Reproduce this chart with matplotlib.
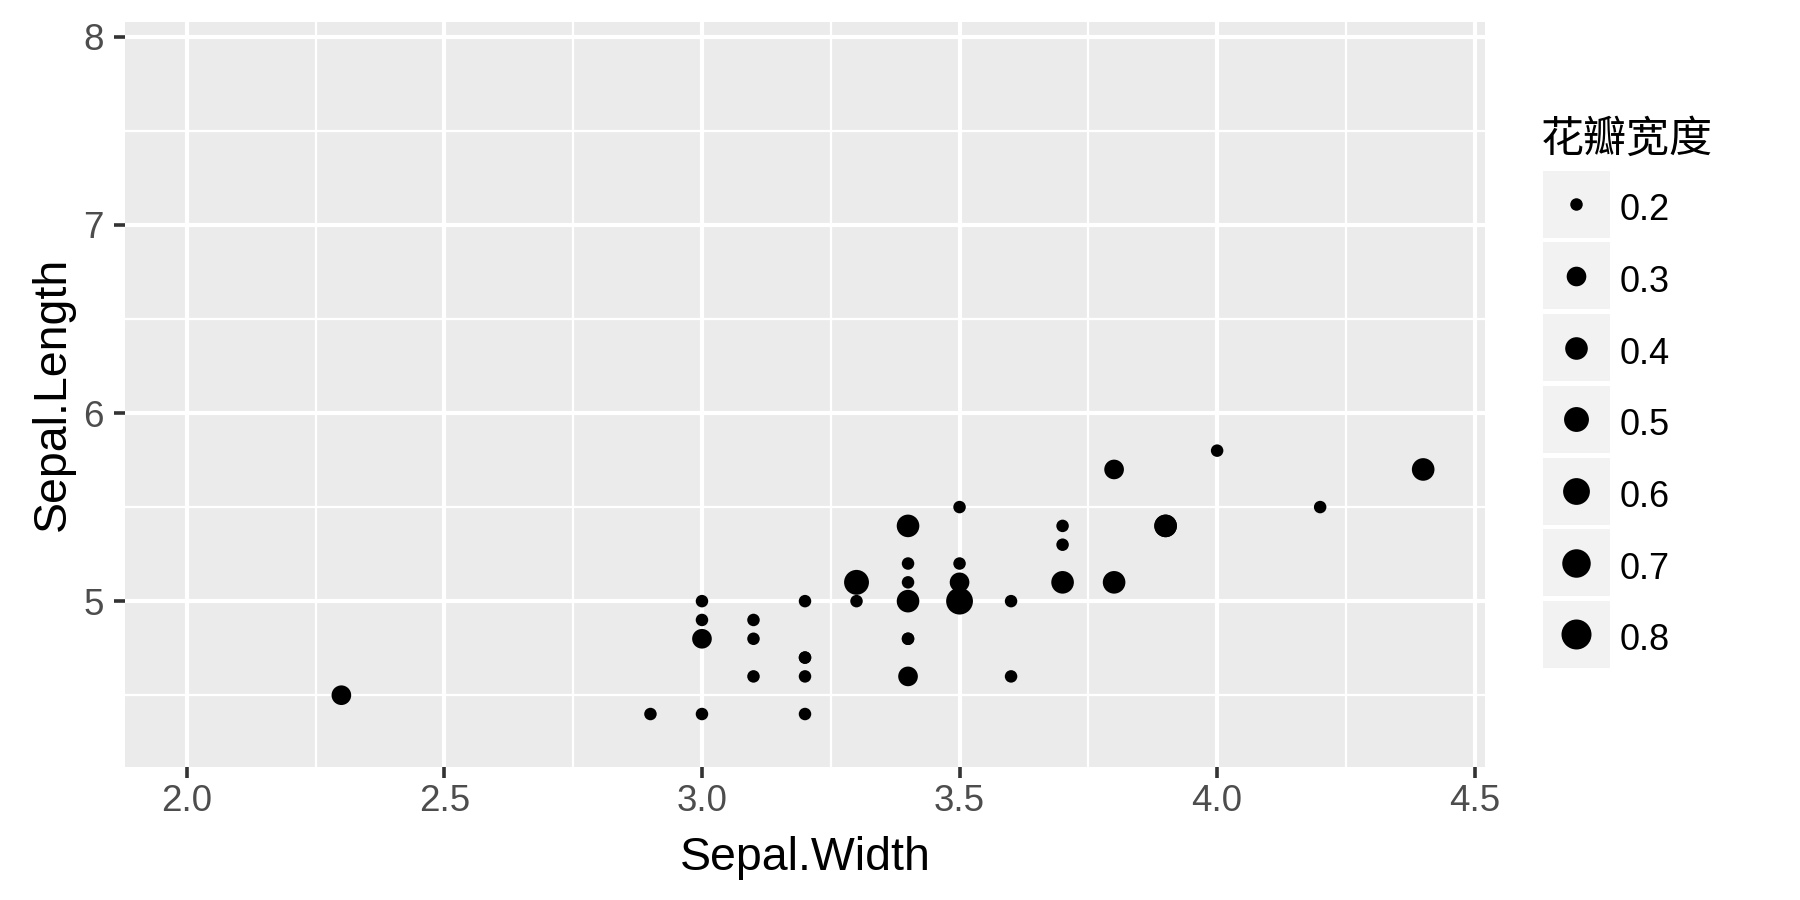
#!/usr/bin/python
description = "setosa sepal width vs sepal length, point size mapped to petal width (ggplot-like grey theme)"

#-------------------------------------------------

import numpy as np

import matplotlib
matplotlib.use('Agg')
from matplotlib import pyplot as plt
from matplotlib.patches import Rectangle

#-------------------------------------------------

### iris setosa rows that fall inside the size scale (petal width 0.2 - 0.8)
sepal_width  = [3.5, 3.0, 3.2, 3.1, 3.6, 3.9, 3.4, 3.4, 2.9, 3.7, 3.4, 4.0, 4.4, 3.9, 3.5,
                3.8, 3.8, 3.4, 3.7, 3.6, 3.3, 3.4, 3.0, 3.4, 3.5, 3.4, 3.2, 3.1, 3.4, 4.2,
                3.1, 3.2, 3.5, 3.0, 3.4, 3.5, 2.3, 3.2, 3.5, 3.8, 3.0, 3.8, 3.2, 3.7, 3.3]
sepal_length = [5.1, 4.9, 4.7, 4.6, 5.0, 5.4, 4.6, 5.0, 4.4, 5.4, 4.8, 5.8, 5.7, 5.4, 5.1,
                5.7, 5.1, 5.4, 5.1, 4.6, 5.1, 4.8, 5.0, 5.0, 5.2, 5.2, 4.7, 4.8, 5.4, 5.5,
                4.9, 5.0, 5.5, 4.4, 5.1, 5.0, 4.5, 4.4, 5.0, 5.1, 4.8, 5.1, 4.6, 5.3, 5.0]
petal_width  = [0.2, 0.2, 0.2, 0.2, 0.2, 0.4, 0.3, 0.2, 0.2, 0.2, 0.2, 0.2, 0.4, 0.4, 0.3,
                0.3, 0.3, 0.2, 0.4, 0.2, 0.5, 0.2, 0.2, 0.4, 0.2, 0.2, 0.2, 0.2, 0.4, 0.2,
                0.2, 0.2, 0.2, 0.2, 0.2, 0.3, 0.3, 0.2, 0.6, 0.4, 0.3, 0.2, 0.2, 0.2, 0.2]

### scale ranges (full iris data range) and legend breaks
x_range = [2.0, 4.4]
y_range = [4.3, 7.9]
size_limits = [0.2, 0.8]
size_breaks = [0.2, 0.3, 0.4, 0.5, 0.6, 0.7, 0.8]

x_ticks = [2.0, 2.5, 3.0, 3.5, 4.0, 4.5]
y_ticks = [5, 6, 7, 8]

x_title = 'Sepal.Width'
y_title = 'Sepal.Length'
legend_title = '花瓣宽度'

#-------------------------------------------------

DPI = 100
W, H = 1800, 900

def area( v ):
    ### area scaling like scale_size : diameter in px -> marker area in pt^2
    v = np.asarray(v, dtype=float)
    frac = (v - size_limits[0]) / (size_limits[1] - size_limits[0])
    d = 12.5 + 17.5*np.sqrt(frac)
    return (d*72.0/DPI)**2

def expand( r, m=0.05 ):
    span = r[1] - r[0]
    return r[0] - m*span, r[1] + m*span

plt.rcParams['font.family'] = ['Liberation Sans', 'DejaVu Sans']

fig = plt.figure(figsize=(W/DPI, H/DPI), dpi=DPI)

### panel in pixel coordinates
left, right, top, bottom = 125, 1485, 21.7, 766.7
ax = fig.add_axes([left/W, 1 - bottom/H, (right - left)/W, (bottom - top)/H])
ax.set_facecolor('#EBEBEB')
for s in ax.spines.values():
    s.set_visible(False)

ax.set_xlim(*expand(x_range))
ax.set_ylim(*expand(y_range))

ax.set_xticks(x_ticks)
ax.set_xticklabels(['%.1f'%t for t in x_ticks])
ax.set_yticks(y_ticks)
ax.set_yticklabels(['%d'%t for t in y_ticks])
ax.set_xticks([2.25, 2.75, 3.25, 3.75, 4.25], minor=True)
ax.set_yticks([4.5, 5.5, 6.5, 7.5], minor=True)

ax.grid(which='major', color='white', linewidth=3.0)
ax.grid(which='minor', color='white', linewidth=1.6)
ax.set_axisbelow(True)

ax.tick_params(which='major', length=7.9, width=2.6, color='#333333',
               labelsize=26.5, labelcolor='#4D4D4D')
ax.tick_params(which='minor', length=0)
ax.tick_params(axis='x', pad=4.5)
ax.tick_params(axis='y', pad=7.5)

ax.scatter(sepal_width, sepal_length, s=area(petal_width), c='black',
           linewidths=0, zorder=3)

### axis titles
fig.text(805/W, 1 - 870/H, x_title, fontsize=33.5, ha='center', va='baseline')
fig.text(65/W, 1 - 394/H, y_title, fontsize=33.5, rotation=90,
         rotation_mode='anchor', ha='center', va='baseline')

#-------------------------------------------------

### legend, drawn by hand in pixel coordinates
lax = fig.add_axes([0, 0, 1, 1])
lax.set_xlim(0, W)
lax.set_ylim(H, 0)
lax.axis('off')
lax.patch.set_alpha(0)

lax.text(1541, 139.5, legend_title, fontsize=31, va='center', ha='left',
         family=['Noto Sans CJK SC', 'DejaVu Sans'])

key_x, key_w, key_h, pitch, key_top = 1542.5, 67, 67, 71.7, 170.7
for i, b in enumerate(size_breaks):
    y0 = key_top + i*pitch
    lax.add_patch(Rectangle((key_x, y0), key_w, key_h, facecolor='#F2F2F2',
                            edgecolor='none'))
    lax.scatter([key_x + key_w/2.], [y0 + key_h/2.], s=area([b]), c='black',
                linewidths=0)
    lax.text(1620, y0 + key_h/2. + 2.5, '%.1f'%b, fontsize=26, va='center_baseline',
             ha='left', color='black')

fig.savefig('out.png', dpi=DPI)
plt.close(fig)
